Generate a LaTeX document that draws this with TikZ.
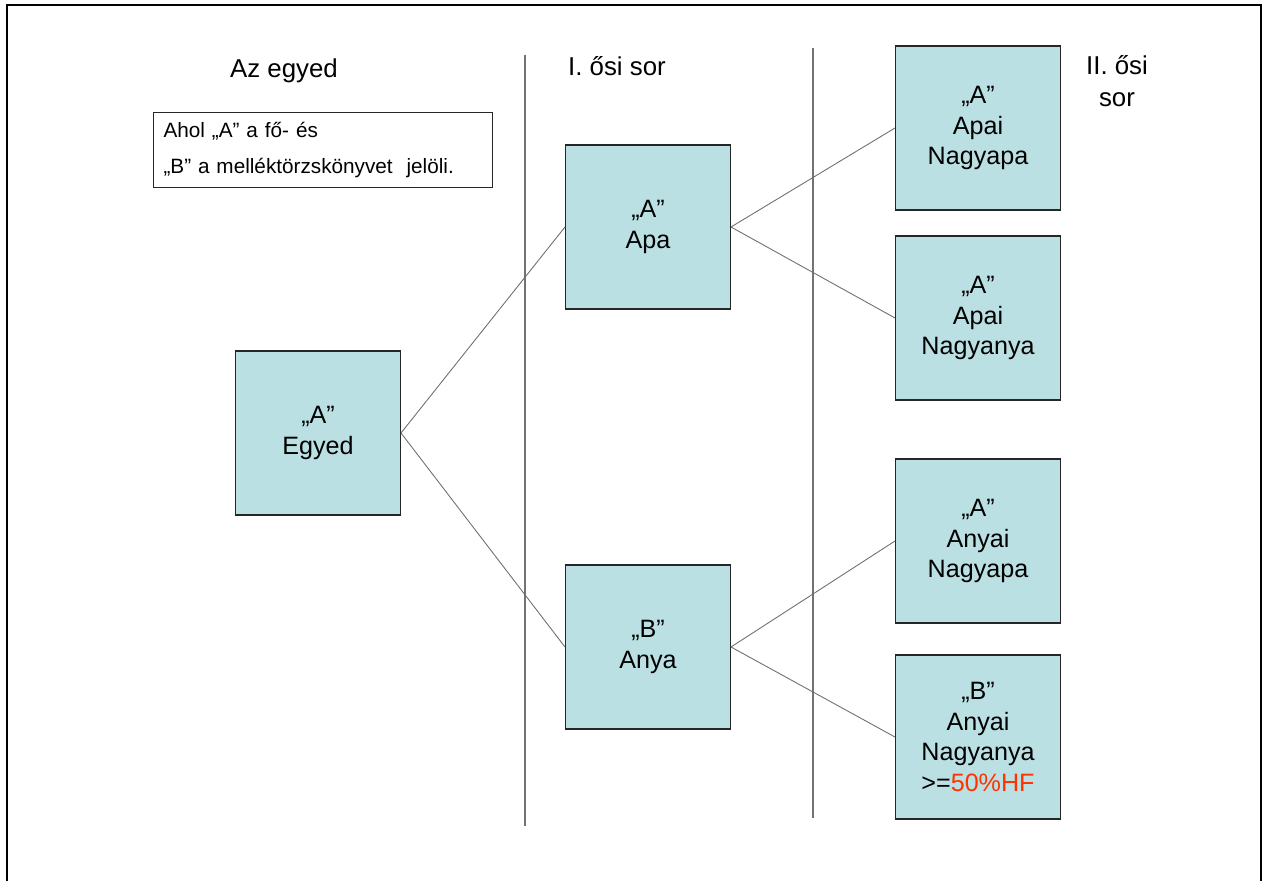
\documentclass[tikz,border=0pt]{standalone}
\usepackage{fontspec}
\setmainfont{Liberation Sans}
\usetikzlibrary{positioning}

\definecolor{boxfill}{RGB}{187,224,227}
\definecolor{hfred}{RGB}{255,51,0}
\definecolor{linkgray}{RGB}{110,110,110}

\begin{document}
\begin{tikzpicture}[
    x=0.02cm, y=-0.02cm,
    ancestor/.style={rectangle, draw=black!85, line width=0.6pt, fill=boxfill, minimum width=3.3cm, minimum height=3.28cm, align=center, font=\fontsize{14.3}{17.4}\selectfont},
    header/.style={align=center, font=\fontsize{14.7}{18}\selectfont},
    legend/.style={rectangle, draw=black!85, line width=0.6pt, fill=white, text width=6.38cm, minimum height=1.46cm, align=left, inner sep=0.2cm, font=\fontsize{11.8}{20.4}\selectfont},
    link/.style={draw=linkgray, line width=0.5pt},
    divider/.style={draw=black!55, line width=0.6pt},
    frame/.style={draw=black, line width=1.4pt}
]
\useasboundingbox (0,0) rectangle (1262,881);
% Outer frame (open at the bottom)
\draw[frame] (7,881) -- (7,5) -- (1261,5) -- (1261,881);
% Column dividers
\draw[divider] (525,55) -- (525,826);
\draw[divider] (813,48) -- (813,818);
% Column headers
\node[header] (hself) at (284,71) {Az egyed};
\node[header] (hfirst) at (617,66) {I. ősi sor};
\node[header] (hsecond) at (1117,81) {II. ősi\\sor};
% Legend
\node[legend, anchor=north west] (key) at (153,112) {Ahol „A” a fő- és\\„B” a melléktörzskönyvet\ \ jelöli.};
% Individual
\node[ancestor] (egyed) at (318,433) {„A”\\Egyed};
% First generation
\node[ancestor] (apa) at (648,227) {„A”\\Apa};
\node[ancestor] (anya) at (648,647) {„B”\\Anya};
% Second generation
\node[ancestor] (apnagyapa) at (978,128) {„A”\\Apai\\Nagyapa};
\node[ancestor] (apnagyanya) at (978,318) {„A”\\Apai\\Nagyanya};
\node[ancestor] (annagyapa) at (978,541) {„A”\\Anyai\\Nagyapa};
\node[ancestor] (annagyanya) at (978,737) {„B”\\Anyai\\Nagyanya\\>=\textcolor{hfred}{50\%HF}};
% Connectors
\draw[link] (egyed.east) -- (apa.west);
\draw[link] (egyed.east) -- (anya.west);
\draw[link] (apa.east) -- (apnagyapa.west);
\draw[link] (apa.east) -- (apnagyanya.west);
\draw[link] (anya.east) -- (annagyapa.west);
\draw[link] (anya.east) -- (annagyanya.west);
\end{tikzpicture}
\end{document}
